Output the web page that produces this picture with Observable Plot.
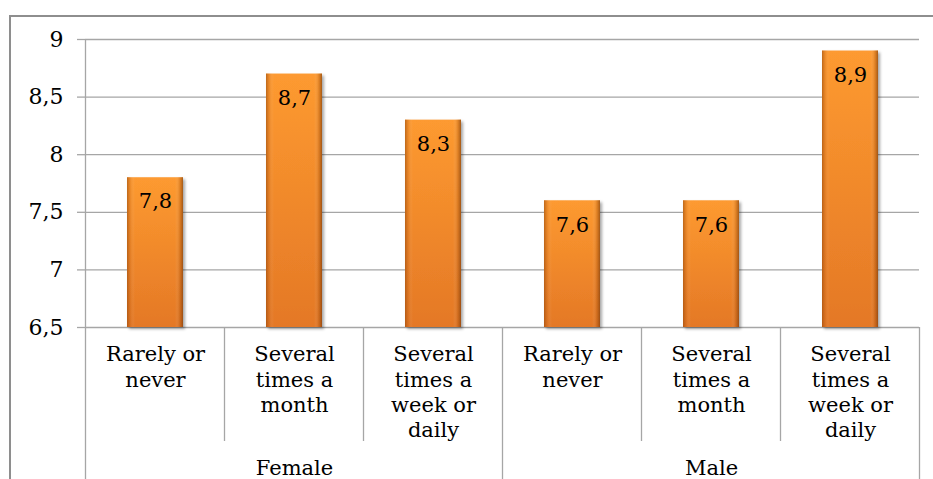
<!DOCTYPE html>
<html><head><meta charset="utf-8">
<script src="https://cdn.jsdelivr.net/npm/d3@7"></script>
<script src="https://cdn.jsdelivr.net/npm/@observablehq/plot@0.6"></script>
<style>
body{margin:0;background:#fff;}
#chart{position:relative;width:933px;height:479px;overflow:hidden;}
#border{position:absolute;left:9px;top:15px;right:-4px;bottom:-4px;border-top:2px solid #8e8e8e;border-left:2px solid #8e8e8e;pointer-events:none;}
#chart svg{position:absolute;left:0;top:0;}
</style></head><body><div id="chart"><div id="border"></div></div>
<script>
const groups = ["Female", "Male"];
const frequencies = ["Rarely or\nnever", "Several\ntimes a\nmonth", "Several\ntimes a\nweek or\ndaily"];
const femaleValues = [7.8, 8.7, 8.3];
const maleValues = [7.6, 7.6, 8.9];
const yTicks = [6.5, 7, 7.5, 8, 8.5, 9];

const data = [];
groups.forEach((g, gi) => {
  const vals = gi === 0 ? femaleValues : maleValues;
  frequencies.forEach((f, fi) => data.push({key: g + "|" + fi, group: g, label: f, value: vals[fi]}));
});
const keys = data.map(d => d.key);
const groupLabels = groups.map(g => ({group: g, key: g + "|1"}));
const fmt = v => String(v).replace(".", ",");
const font = "DejaVu Serif, serif";

const plot = Plot.plot({
  width: 933, height: 479,
  marginLeft: 85, marginRight: 14, marginTop: 39, marginBottom: 152,
  style: {background: "transparent", color: "#000", overflow: "visible"},
  x: {type: "band", domain: keys, paddingInner: 0.6, paddingOuter: 0.3, axis: null},
  y: {domain: [6.5, 9], axis: null},
  marks: [
    Plot.gridY(yTicks, {stroke: "#a6a6a6", strokeOpacity: 1, strokeWidth: 1.3}),
    Plot.axisY(yTicks, {label: null, tickSize: 8, tickPadding: 14, tickFormat: fmt, fontSize: 22, fontFamily: font, stroke: "#a6a6a6", fill: "#000", strokeWidth: 1.3}),
    Plot.barY(data, {x: "key", y1: 6.5, y2: "value", fill: "url(#barV)"}),
    Plot.barY(data, {x: "key", y1: 6.5, y2: "value", fill: "url(#barH)"}),
    Plot.text(data, {x: "key", y: "value", text: d => fmt(d.value), dy: 24, fontSize: 21, fontFamily: font, fill: "#000"}),
    Plot.text(data, {x: "key", text: "label", frameAnchor: "bottom", lineAnchor: "top", dy: 16, fontSize: 21, fontFamily: font, lineHeight: 1.2, fill: "#000"}),
    Plot.text(groupLabels, {x: "key", text: "group", frameAnchor: "bottom", lineAnchor: "middle", dy: 141, fontSize: 21, fontFamily: font, fill: "#000"})
  ]
});

document.getElementById("chart").appendChild(plot);

const svg = d3.select(plot);
const defs = svg.insert("defs", ":first-child");
const gv = defs.append("linearGradient").attr("id", "barV").attr("x1", 0).attr("y1", 0).attr("x2", 0).attr("y2", 1);
gv.append("stop").attr("offset", "0%").attr("stop-color", "#fd9a30");
gv.append("stop").attr("offset", "100%").attr("stop-color", "#e47826");
const gh = defs.append("linearGradient").attr("id", "barH").attr("x1", 0).attr("y1", 0).attr("x2", 1).attr("y2", 0);
[[0, "#8a4008", 0.55], [0.06, "#a85010", 0.18], [0.14, "#ffffff", 0], [0.86, "#ffffff", 0], [0.94, "#8a4008", 0.22], [1, "#6a3006", 0.6]]
  .forEach(([o, c, a]) => gh.append("stop").attr("offset", o).attr("stop-color", c).attr("stop-opacity", a));
const flt = defs.append("filter").attr("id", "shadow").attr("x", "-20%").attr("y", "-10%").attr("width", "150%").attr("height", "130%");
flt.append("feDropShadow").attr("dx", 2).attr("dy", 2).attr("stdDeviation", 1.8).attr("flood-color", "#000").attr("flood-opacity", 0.35);
svg.selectAll('g[aria-label="bar"]').filter((d, i) => i === 0).attr("filter", "url(#shadow)");

const xs = plot.scale("x"), ys = plot.scale("y");
const base = ys.apply(6.5);
const gap = (xs.step - xs.bandwidth) / 2;
const sep = svg.append("g").attr("stroke", "#a6a6a6").attr("stroke-width", 1.3);
keys.forEach((k, i) => {
  const xl = xs.apply(k) - gap;
  const isGroupStart = i % frequencies.length === 0;
  sep.append("line").attr("x1", xl).attr("x2", xl).attr("y1", isGroupStart && i === 0 ? ys.apply(9) : base).attr("y2", isGroupStart ? 479 : base + 114);
});
const lastK = keys[keys.length - 1];
const xr = xs.apply(lastK) + xs.bandwidth + gap;
sep.append("line").attr("x1", xr).attr("x2", xr).attr("y1", base).attr("y2", 479);
</script></body></html>
